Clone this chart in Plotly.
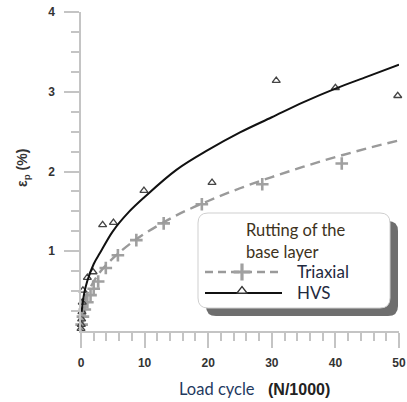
import plotly.graph_objects as go

# ---------------- data ----------------
tri_x = [0.1, 0.3, 0.6, 1.0, 1.5, 2.0, 2.7, 3.9, 5.8, 8.7, 13.0, 19.0, 28.5, 41.0]
tri_y = [0.08, 0.18, 0.27, 0.36, 0.45, 0.53, 0.62, 0.79, 0.95, 1.14, 1.35, 1.59, 1.84, 2.10]

hvs_x = [0.0, 0.05, 0.1, 0.15, 0.2, 0.3, 1.0, 1.9, 3.4, 5.1, 9.9, 20.6, 30.7, 40.0, 49.8]
hvs_y = [0.03, 0.08, 0.15, 0.24, 0.36, 0.51, 0.67, 0.74, 1.33, 1.36, 1.76, 1.86, 3.14, 3.05, 2.95]

fit_x = [0.1, 0.5, 1, 2, 3, 5, 7.5, 10, 15, 20, 25, 30, 35, 40, 45, 50]
hvs_fit = [0.24, 0.47, 0.63, 0.84, 0.98, 1.25, 1.49, 1.68, 2.02, 2.27, 2.49, 2.68, 2.87, 3.04, 3.19, 3.34]
tri_fit = [0.18, 0.35, 0.47, 0.62, 0.74, 0.91, 1.08, 1.22, 1.45, 1.63, 1.79, 1.93, 2.06, 2.18, 2.29, 2.39]

x_ticks = [0, 10, 20, 30, 40, 50]
y_ticks = [1, 2, 3, 4]
legend_title = ["Rutting of the", "base layer"]
series_names = ["Triaxial", "HVS"]

# ---------------- styling ----------------
W, H = 407, 402
AX = "#c4c4c4"
TRI_C = "#9a9a9a"
HVS_C = "#111111"
TRI_MK = "#a0a0a0"
HVS_MK = "#444444"

fig = go.Figure()

# data markers
fig.add_trace(go.Scatter(x=tri_x, y=tri_y, mode="markers", cliponaxis=False,
                         marker=dict(symbol="cross-thin", size=9,
                                     line=dict(color=TRI_MK, width=2.6)),
                         showlegend=False))
fig.add_trace(go.Scatter(x=hvs_x, y=hvs_y, mode="markers", cliponaxis=False,
                         marker=dict(symbol="triangle-up-open", size=7,
                                     color=HVS_MK, line=dict(width=1.3)),
                         showlegend=False))
# fitted curves
fig.add_trace(go.Scatter(x=fit_x, y=tri_fit, mode="lines", line_shape="spline",
                         line=dict(color=TRI_C, width=2.4, dash="10px,6px"),
                         showlegend=False))
fig.add_trace(go.Scatter(x=fit_x, y=hvs_fit, mode="lines", line_shape="spline",
                         line=dict(color=HVS_C, width=2),
                         showlegend=False))

tickfont = dict(family="Liberation Sans, Arial", size=12, color="#333333", weight="bold")

fig.update_layout(
    width=W, height=H,
    margin=dict(l=0, r=0, t=0, b=0, autoexpand=False),
    paper_bgcolor="white", plot_bgcolor="rgba(0,0,0,0)",
    showlegend=False,
    xaxis=dict(domain=[81 / W, 399 / W], range=[0, 50], automargin=False,
               tickmode="array", tickvals=x_ticks, ticklabelstandoff=5,
               ticks="outside", ticklen=15, tickwidth=1.5, tickcolor=AX,
               showline=True, linecolor=AX, linewidth=1.5,
               showgrid=False, zeroline=False, tickfont=tickfont,
               minor=dict(dtick=2, tick0=0, ticks="outside", ticklen=8,
                          tickwidth=1.5, tickcolor=AX, showgrid=False)),
    yaxis=dict(domain=[(H - 331) / H, (H - 12) / H], range=[0, 4], automargin=False,
               tickmode="array", tickvals=y_ticks, ticklabelstandoff=7,
               ticks="outside", ticklen=15, tickwidth=1.5, tickcolor=AX,
               showline=True, linecolor=AX, linewidth=1.5,
               showgrid=False, zeroline=False, tickfont=tickfont,
               minor=dict(tickmode="array",
                          tickvals=[0.25, 0.5, 0.75, 1.25, 1.5, 1.75, 2.25, 2.5, 2.75,
                                    3.25, 3.5, 3.75],
                          ticks="outside", ticklen=8, tickwidth=1.5,
                          tickcolor=AX, showgrid=False)),
    # overlay pixel-coordinate axes for legend & decorations
    xaxis2=dict(domain=[0, 1], range=[0, W], visible=False, anchor="y2", automargin=False),
    yaxis2=dict(domain=[0, 1], range=[H, 0], visible=False, anchor="x2", automargin=False),
)

# y-axis line extension below the x axis
fig.add_shape(type="line", xref="x2", yref="y2", x0=81, x1=81, y0=330, y1=345,
              line=dict(color=AX, width=1.5))


def rounded_rect(x0, y0, x1, y1, r):
    return (f"M {x0+r},{y0} L {x1-r},{y0} Q {x1},{y0} {x1},{y0+r} "
            f"L {x1},{y1-r} Q {x1},{y1} {x1-r},{y1} L {x0+r},{y1} "
            f"Q {x0},{y1} {x0},{y1-r} L {x0},{y0+r} Q {x0},{y0} {x0+r},{y0} Z")


# legend shadow & box
fig.add_shape(type="path", xref="x2", yref="y2", layer="below",
              path=rounded_rect(206, 221, 398, 316, 10),
              fillcolor="#6e6e6e", line=dict(width=0))
fig.add_shape(type="path", xref="x2", yref="y2", layer="below",
              path=rounded_rect(198, 213, 390, 308, 10),
              fillcolor="white", line=dict(color="#cfcfcf", width=1))

# legend samples
fig.add_trace(go.Scatter(x=[205, 280], y=[272, 272], xaxis="x2", yaxis="y2",
                         mode="lines", line=dict(color=TRI_C, width=2.4, dash="8px,5px"),
                         showlegend=False, hoverinfo="skip"))
fig.add_trace(go.Scatter(x=[242], y=[272], xaxis="x2", yaxis="y2", mode="markers",
                         marker=dict(symbol="cross-thin", size=12,
                                     line=dict(color=TRI_MK, width=3.2)),
                         showlegend=False, hoverinfo="skip"))
fig.add_trace(go.Scatter(x=[205, 282], y=[293, 293], xaxis="x2", yaxis="y2",
                         mode="lines", line=dict(color=HVS_C, width=2),
                         showlegend=False, hoverinfo="skip"))
fig.add_trace(go.Scatter(x=[242], y=[291], xaxis="x2", yaxis="y2", mode="markers",
                         marker=dict(symbol="triangle-up", size=9, color="white",
                                     line=dict(color="#333", width=1.3)),
                         showlegend=False, hoverinfo="skip"))

LF = "Lato, Open Sans, sans-serif"
for txt, yy in zip(legend_title, [230, 252]):
    fig.add_annotation(x=244, y=yy, xref="x2", yref="y2", text=txt, showarrow=False,
                       xanchor="left", yanchor="middle",
                       font=dict(family=LF, size=16.5, color="#3d3220"))
for txt, yy in zip(series_names, [271, 292]):
    fig.add_annotation(x=295, y=yy, xref="x2", yref="y2", text=txt, showarrow=False,
                       xanchor="left", yanchor="middle",
                       font=dict(family=LF, size=17, color="#1f2a40"))

# axis titles
fig.add_annotation(x=177, y=389, xref="x2", yref="y2", text="Load cycle",
                   showarrow=False, xanchor="left", yanchor="middle",
                   font=dict(family=LF, size=16.5, color="#1f3a5f"))
fig.add_annotation(x=266, y=389, xref="x2", yref="y2", text="<b>(N/1000)</b>",
                   showarrow=False, xanchor="left", yanchor="middle",
                   font=dict(family="Liberation Sans, Arial", size=16, color="#222"))
fig.add_annotation(x=23, y=168, xref="x2", yref="y2",
                   text="<b>ε<sub>p</sub> (%)</b>", textangle=-90,
                   showarrow=False, xanchor="center", yanchor="middle",
                   font=dict(family="Liberation Sans, Arial", size=14, color="#333"))

fig.write_html("out.html")
